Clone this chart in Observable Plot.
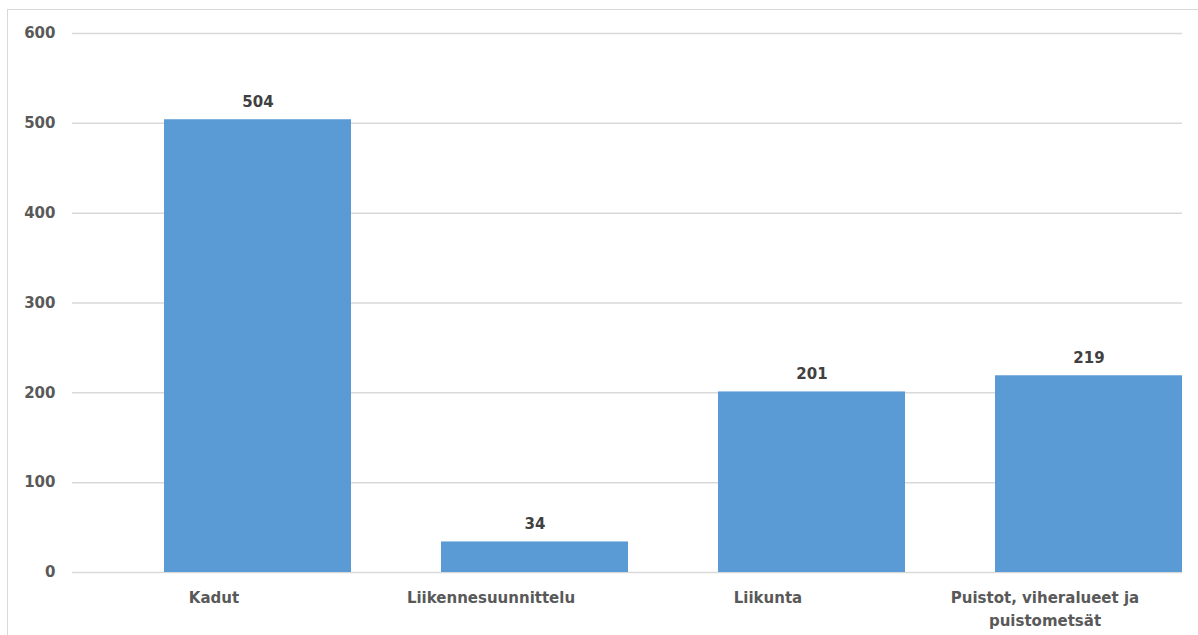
<!DOCTYPE html>
<html>
<head>
<meta charset="utf-8">
<script src="https://cdn.jsdelivr.net/npm/d3@7"></script>
<script src="https://cdn.jsdelivr.net/npm/@observablehq/plot@0.6"></script>
<style>
  html, body { margin: 0; padding: 0; background: #fff; }
  #wrap { position: relative; width: 1198px; height: 635px; overflow: hidden; }
  #border { position: absolute; left: 7px; top: 9px; right: -10px; bottom: -10px; border-left: 1.5px solid #d9d9d9; border-top: 1.5px solid #d9d9d9; }
  #chart { position: absolute; left: 0; top: 0; }
  svg { font-family: "DejaVu Sans", sans-serif; }
</style>
</head>
<body>
<div id="wrap"><div id="border"></div><div id="chart"></div></div>
<script>
const categories = ["Kadut", "Liikennesuunnittelu", "Liikunta", "Puistot, viheralueet ja\npuistometsät"];
const values = [504, 34, 201, 219];
const yTicks = [0, 100, 200, 300, 400, 500, 600];

const data = categories.map((c, i) => ({category: c, value: values[i]}));

const chart = Plot.plot({
  width: 1198,
  height: 635,
  marginLeft: 72,
  marginRight: 16,
  marginTop: 33,
  marginBottom: 63,
  style: {background: "transparent", fontFamily: "DejaVu Sans, sans-serif"},
  x: {domain: categories, paddingInner: 0.326, paddingOuter: 0.164, align: 1, label: null},
  y: {domain: [0, 600], label: null},
  marks: [
    Plot.gridY(yTicks, {stroke: "#d9d9d9", strokeOpacity: 1, strokeWidth: 1.5}),
    Plot.barY(data, {x: "category", y: "value", fill: "#5b9bd5"}),
    Plot.text(data, {x: "category", y: "value", text: d => String(d.value), lineAnchor: "bottom", dy: -13, fill: "#404040", fontSize: 15, fontWeight: "bold"}),
    Plot.axisY(yTicks, {tickSize: 0, tickPadding: 17, fontSize: 15, fontWeight: "bold", fill: "#595959", label: null}),
    Plot.axisX({tickSize: 0, tickPadding: 14, dx: -44, fontSize: 15, fontWeight: "bold", fill: "#595959", label: null, lineHeight: 1.55})
  ]
});
document.getElementById("chart").appendChild(chart);
</script>
</body>
</html>
